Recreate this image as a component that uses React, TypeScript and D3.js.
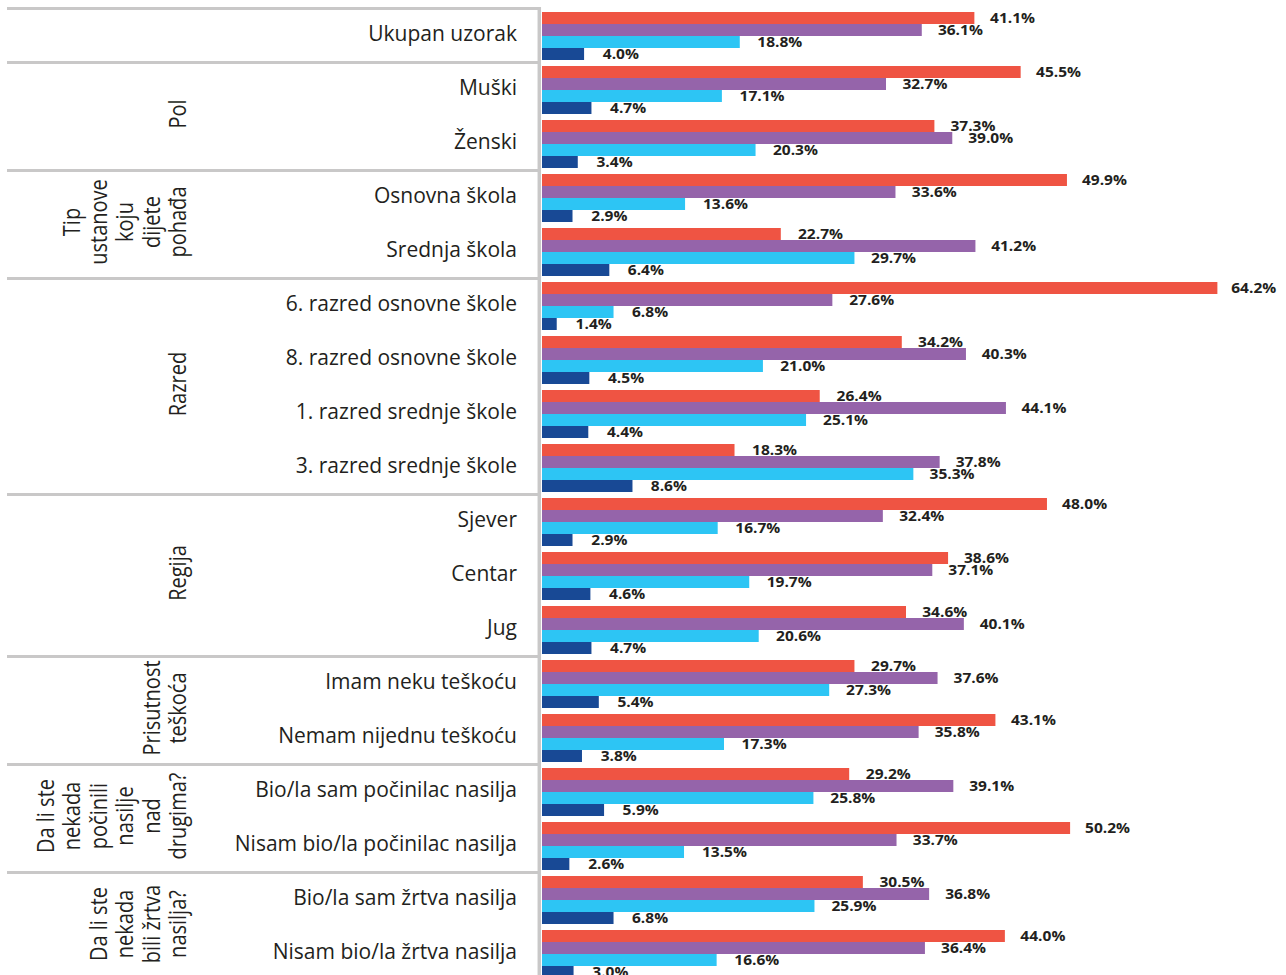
import React from "react";
import * as d3 from "d3";

const categories = [
  "Ukupan uzorak",
  "Muški",
  "Ženski",
  "Osnovna škola",
  "Srednja škola",
  "6. razred osnovne škole",
  "8. razred osnovne škole",
  "1. razred srednje škole",
  "3. razred srednje škole",
  "Sjever",
  "Centar",
  "Jug",
  "Imam neku teškoću",
  "Nemam nijednu teškoću",
  "Bio/la sam počinilac nasilja",
  "Nisam bio/la počinilac nasilja",
  "Bio/la sam žrtva nasilja",
  "Nisam bio/la žrtva nasilja",
];

const seriesNames = ["s1", "s2", "s3", "s4"];
const seriesColors = ["#EF5443", "#9564AA", "#2DC5F4", "#184995"];

const series1 = [41.1, 45.5, 37.3, 49.9, 22.7, 64.2, 34.2, 26.4, 18.3, 48.0, 38.6, 34.6, 29.7, 43.1, 29.2, 50.2, 30.5, 44.0];
const series2 = [36.1, 32.7, 39.0, 33.6, 41.2, 27.6, 40.3, 44.1, 37.8, 32.4, 37.1, 40.1, 37.6, 35.8, 39.1, 33.7, 36.8, 36.4];
const series3 = [18.8, 17.1, 20.3, 13.6, 29.7, 6.8, 21.0, 25.1, 35.3, 16.7, 19.7, 20.6, 27.3, 17.3, 25.8, 13.5, 25.9, 16.6];
const series4 = [4.0, 4.7, 3.4, 2.9, 6.4, 1.4, 4.5, 4.4, 8.6, 2.9, 4.6, 4.7, 5.4, 3.8, 5.9, 2.6, 6.8, 3.0];

const groupLines: string[][] = [
  [],
  ["Pol"],
  ["Tip", "ustanove", "koju", "dijete", "pohađa"],
  ["Razred"],
  ["Regija"],
  ["Prisutnost", "teškoća"],
  ["Da li ste", "nekada", "počinili", "nasilje", "nad", "drugima?"],
  ["Da li ste", "nekada", "bili žrtva", "nasilja?"],
];
const groupSizes = [1, 2, 2, 4, 3, 2, 2, 2];

export default function App() {
  const W = 1286;
  const H = 975;
  const allSeries = [series1, series2, series3, series4];

  const y = d3
    .scaleBand<string>()
    .domain(categories)
    .range([9, 9 + 18 * 54])
    .paddingInner(6 / 54)
    .paddingOuter(3 / 54);
  const ySub = d3.scaleBand<string>().domain(seriesNames).range([0, y.bandwidth()]);
  const x = d3.scaleLinear().domain([0, 70]).range([542, 542 + 70 * 10.52]);

  const axisX = 539.3;
  const textColor = "#231f20";
  const lineColor = "#c9c8c8";

  const groups: { start: number; end: number; lines: string[] }[] = [];
  let idx = 0;
  groupSizes.forEach((n, gi) => {
    const first = categories[idx];
    const last = categories[idx + n - 1];
    groups.push({
      start: y(first)!,
      end: y(last)! + y.bandwidth(),
      lines: groupLines[gi],
    });
    idx += n;
  });

  const fontFam = "'Open Sans', 'Noto Sans', sans-serif";

  return (
    <svg
      width={W}
      height={H}
      style={{ position: "absolute", left: 0, top: 0, display: "block", background: "#fff" }}
    >
      {categories.map((c, ci) => (
        <g key={c}>
          {allSeries.map((s, si) => {
            const v = s[ci];
            const y0 = y(c)! + ySub(seriesNames[si])!;
            return (
              <rect
                key={si}
                x={x(0)}
                y={y0}
                width={x(v) - x(0)}
                height={ySub.bandwidth()}
                fill={seriesColors[si]}
              />
            );
          })}
        </g>
      ))}
      {categories.map((c, ci) => (
        <g key={c + "-lab"}>
          {allSeries.map((s, si) => {
            const v = s[ci];
            const cy = y(c)! + ySub(seriesNames[si])! + ySub.bandwidth() / 2;
            const tx = x(v) + 19 - v * 0.08;
            return (
              <text
                key={si}
                transform={`translate(${tx},${cy + 5.2}) scale(1.15,1)`}
                fontFamily={fontFam}
                fontWeight={700}
                fontSize={13.5}
                fill={textColor}
              >
                {v.toFixed(1) + "%"}
              </text>
            );
          })}
        </g>
      ))}
      {groups.map((g, gi) => {
        const ly = g.start - 3.5;
        return (
          <line key={"sep" + gi} x1={7} x2={axisX} y1={ly} y2={ly} stroke={lineColor} strokeWidth={3} />
        );
      })}
      <line x1={axisX} x2={axisX} y1={7} y2={H} stroke={lineColor} strokeWidth={3.5} />
      {categories.map((c) => (
        <text
          key={c + "-cat"}
          x={517}
          y={y(c)! + y.bandwidth() / 2 + 4.5}
          textAnchor="end"
          fontFamily={fontFam}
          fontSize={21}
          fill={textColor}
        >
          {c}
        </text>
      ))}
      {groups.map((g, gi) => {
        const cy = (g.start + g.end) / 2 - 3;
        const n = g.lines.length;
        return (
          <g key={"grp" + gi}>
            {g.lines.map((l, li) => {
              const bx = 186 - (n - 1 - li) * 26.4;
              return (
                <text
                  key={li}
                  transform={`translate(${bx},${cy}) scale(1.15,1) rotate(-90)`}
                  textAnchor="middle"
                  fontFamily={fontFam}
                  fontSize={20}
                  fill={textColor}
                >
                  {l}
                </text>
              );
            })}
          </g>
        );
      })}
    </svg>
  );
}
